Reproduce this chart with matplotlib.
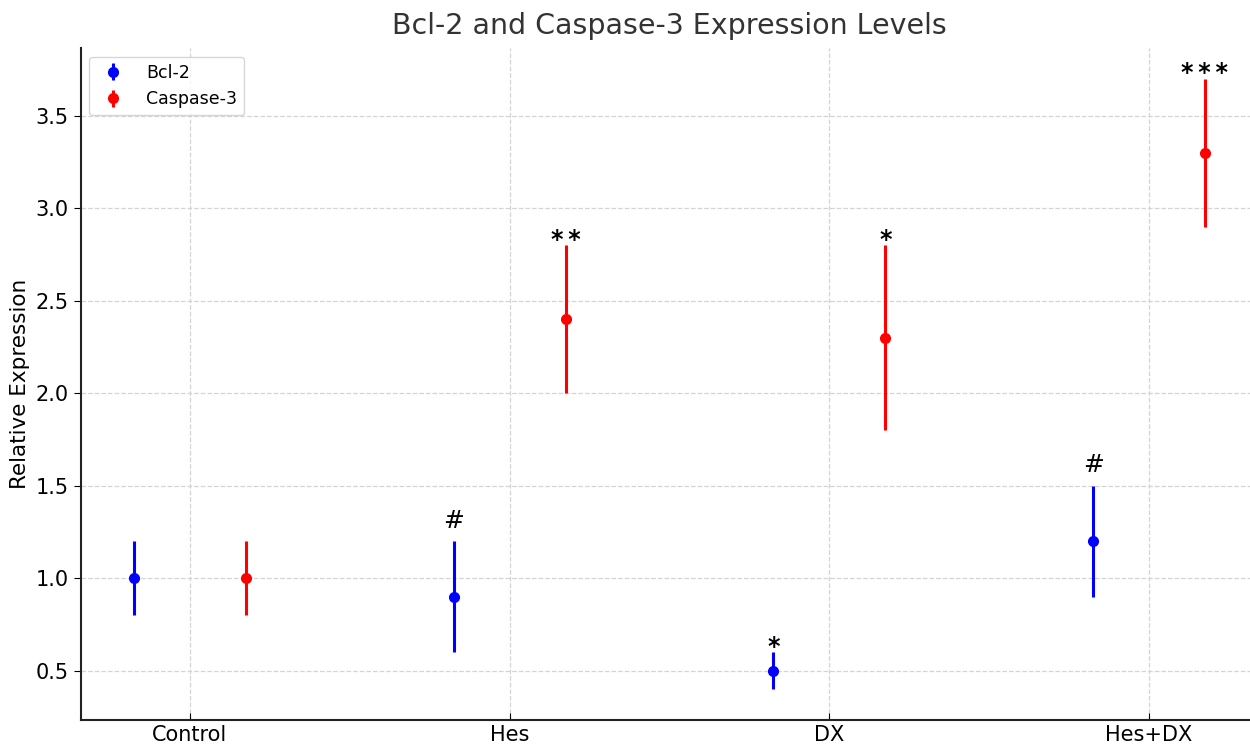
import numpy as np
import matplotlib
matplotlib.use("Agg")
import matplotlib.pyplot as plt

groups = ["Control", "Hes", "DX", "Hes+DX"]
bcl2_mean = [1.0, 0.9, 0.5, 1.2]
bcl2_err = [0.2, 0.3, 0.1, 0.3]
casp3_mean = [1.0, 2.4, 2.3, 3.3]
casp3_err = [0.2, 0.4, 0.5, 0.4]
bcl2_marks = ["", "#", "*", "#"]
casp3_marks = ["", "**", "*", "***"]

x = np.arange(len(groups))
offset = 0.175

fig = plt.figure(figsize=(12.5, 7.46), dpi=100)
ax = fig.add_axes([0.0644, 0.0349, 0.9424, 0.9008])

ax.errorbar(x - offset, bcl2_mean, yerr=bcl2_err, fmt='o', color='blue',
            ecolor='blue', elinewidth=2.2, markersize=7, capsize=0, label='Bcl-2')
ax.errorbar(x + offset, casp3_mean, yerr=casp3_err, fmt='o', color='red',
            ecolor='red', elinewidth=2.2, markersize=7, capsize=0, label='Caspase-3')


def mark(ax, xpos, top, label):
    # asterisks sit close to the bar, '#' a little higher
    if label.startswith('*'):
        ax.text(xpos, top + 0.03, '\u2009'.join(label), ha='center', va='center',
                fontsize=17, fontweight='bold')
    else:
        ax.text(xpos, top + 0.045, label, ha='center', va='bottom', fontsize=18)


for i in range(len(groups)):
    if bcl2_marks[i]:
        mark(ax, x[i] - offset, bcl2_mean[i] + bcl2_err[i], bcl2_marks[i])
    if casp3_marks[i]:
        mark(ax, x[i] + offset, casp3_mean[i] + casp3_err[i], casp3_marks[i])

ax.set_xticks(x)
ax.set_xticklabels(groups, fontsize=15)
ax.set_yticks([0.5, 1.0, 1.5, 2.0, 2.5, 3.0, 3.5])
ax.tick_params(axis='y', labelsize=15, direction='out', length=5)
ax.tick_params(axis='x', direction='in', length=5)
ax.set_ylabel("Relative Expression", fontsize=15.5)
ax.set_title("Bcl-2 and Caspase-3 Expression Levels", fontsize=20.5, color='#333333', pad=10)

ax.grid(True, linestyle='--', color='#d4d4d4', linewidth=0.9)
ax.set_axisbelow(True)
for side in ['top', 'right']:
    ax.spines[side].set_visible(False)
for side in ['left', 'bottom']:
    ax.spines[side].set_linewidth(1.5)
    ax.spines[side].set_color('#222222')

ax.legend(loc='upper left', fontsize=12.5, handletextpad=0.9)

fig.savefig("out.png", dpi=100)
